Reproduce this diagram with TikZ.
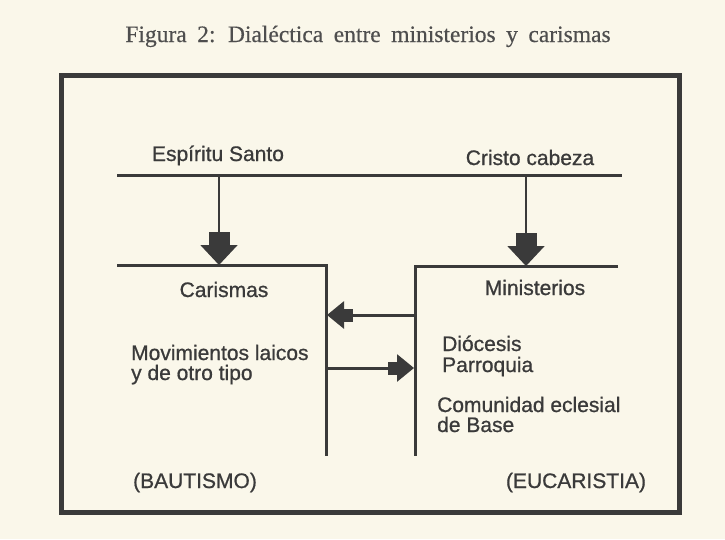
\documentclass[tikz,border=0pt]{standalone}
\usepackage{fontspec}
\setmainfont{Liberation Serif}
\newfontfamily\rotulo[FakeBold=0.8]{Liberation Sans}
\newfontfamily\cabecera[FakeBold=0.4]{Liberation Serif}
\usetikzlibrary{arrows.meta}
\definecolor{papel}{RGB}{250,247,234}
\definecolor{tinta}{RGB}{58,58,58}
\tikzset{
    marco/.style={draw=tinta,line width=5pt},
    linea/.style={draw=tinta,line width=3pt},
    bajada/.style={draw=tinta,line width=2pt,-{Rectangle[length=13pt,width=21pt,sep=0pt]Triangle[length=20pt,width=37pt]}},
    paso/.style={draw=tinta,line width=3pt,-{Rectangle[length=9pt,width=13pt,sep=0pt]Triangle[length=17pt,width=27pt]}},
    texto/.style={text=tinta,font=\rotulo\fontsize{21}{20}\selectfont,inner sep=0pt},
}
\begin{document}
\begin{tikzpicture}[x=1pt,y=-1pt]
    \fill[papel] (0,0) rectangle (725,539);
    \useasboundingbox (0,0) rectangle (725,539);
    \node[text=tinta!90,font=\cabecera\fontsize{23.5}{25}\selectfont,anchor=base,inner sep=0pt] (titulo) at (368,42) {\spaceskip=10.5pt Figura 2: Dialéctica entre ministerios y carismas};
    \draw[marco] (61,75) rectangle (679,512);
    \coordinate (es-l) at (117,175); \coordinate (es-r) at (622,175);
    \coordinate (es-a) at (219,175); \coordinate (es-b) at (526,175);
    \coordinate (car-l) at (117,265); \coordinate (car-in) at (219,265);
    \coordinate (car-r) at (326,265); \coordinate (car-b) at (326,456);
    \coordinate (min-r) at (618,266); \coordinate (min-in) at (526,266);
    \coordinate (min-l) at (415,266); \coordinate (min-b) at (415,456);
    \coordinate (ida-a) at (415,315); \coordinate (ida-b) at (327,315);
    \coordinate (vuelta-a) at (326,368); \coordinate (vuelta-b) at (414,368);
    \draw[linea] (es-l) -- (es-r);
    \draw[bajada] (es-a) -- (car-in);
    \draw[bajada] (es-b) -- (min-in);
    \draw[linea] (car-l) -- (car-r) -- (car-b);
    \draw[linea] (min-r) -- (min-l) -- (min-b);
    \draw[paso] (ida-a) -- (ida-b);
    \draw[paso] (vuelta-a) -- (vuelta-b);
    \node[texto,anchor=base] (espiritu) at (218,161) {Espíritu Santo};
    \node[texto,anchor=base] (cristo) at (530,165) {Cristo cabeza};
    \node[texto,anchor=base] (carismas) at (224,297) {Carismas};
    \node[texto,anchor=base] (ministerios) at (535,295) {Ministerios};
    \node[texto,anchor=base west,align=left] (movimientos) at (131,380) {Movimientos laicos\\y de otro tipo};
    \node[texto,anchor=base west,align=left] (diocesis) at (442,372) {Diócesis\\[1pt]Parroquia};
    \node[texto,anchor=base west,align=left] (comunidad) at (437,432) {Comunidad eclesial\\de Base};
    \node[texto,anchor=base] (bautismo) at (195,488) {(BAUTISMO)};
    \node[texto,anchor=base] (eucaristia) at (576,488) {(EUCARISTIA)};
\end{tikzpicture}
\end{document}
